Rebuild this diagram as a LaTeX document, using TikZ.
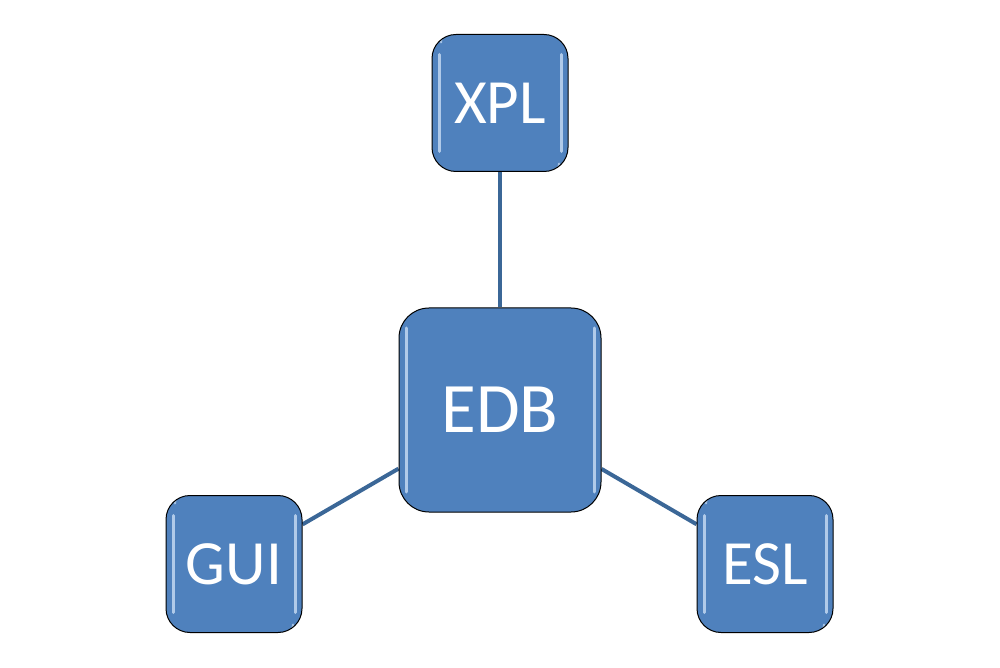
\documentclass[tikz,border=0pt]{standalone}
\usepackage{fontspec}
\setmainfont{Carlito}
\usetikzlibrary{backgrounds}
\definecolor{boxblue}{HTML}{4F81BD}
\definecolor{linkblue}{HTML}{3B6797}
\definecolor{glint}{HTML}{C9DDF4}
\tikzset{
  glossy/.style={
    path picture={
      \draw[glint, opacity=0.8, line width=3pt, line cap=round]
        ([xshift=7pt,yshift=-20pt]path picture bounding box.north west) --
        ([xshift=7pt,yshift=20pt]path picture bounding box.south west);
      \draw[glint, opacity=0.8, line width=3pt, line cap=round]
        ([xshift=-7pt,yshift=-20pt]path picture bounding box.north east) --
        ([xshift=-7pt,yshift=20pt]path picture bounding box.south east);
      \draw[glint, opacity=0.7, line width=2pt, line cap=round]
        ([xshift=9pt,yshift=-8pt]path picture bounding box.north west) arc[start angle=180, end angle=120, radius=12pt];
      \draw[glint, opacity=0.7, line width=2pt, line cap=round]
        ([xshift=-9pt,yshift=8pt]path picture bounding box.south east) arc[start angle=0, end angle=-60, radius=12pt];
    }},
  smallbox/.style={glossy, draw=black, line width=1pt, fill=boxblue, rounded corners=24pt,
    minimum width=136pt, minimum height=137pt, inner sep=0pt, text=white, font=\fontsize{63}{70}\selectfont},
  bigbox/.style={glossy, draw=black, line width=1pt, fill=boxblue, rounded corners=30pt,
    minimum width=202pt, minimum height=204pt, inner sep=0pt, text=white, font=\fontsize{71}{78}\selectfont},
  link/.style={draw=linkblue, line width=4pt}
}
\begin{document}
\begin{tikzpicture}[x=1pt,y=1pt]
\useasboundingbox (0,0) rectangle (1000,667);
\node[bigbox] (edb) at (500,257) {EDB};
\node[smallbox] (xpl) at (500,564) {XPL};
\node[smallbox] (gui) at (234,103) {GUI};
\node[smallbox] (esl) at (765,103) {ESL};
\begin{scope}[on background layer]
\draw[link] (edb) -- (xpl);
\draw[link] (edb) -- (gui);
\draw[link] (edb) -- (esl);
\end{scope}
\end{tikzpicture}
\end{document}
